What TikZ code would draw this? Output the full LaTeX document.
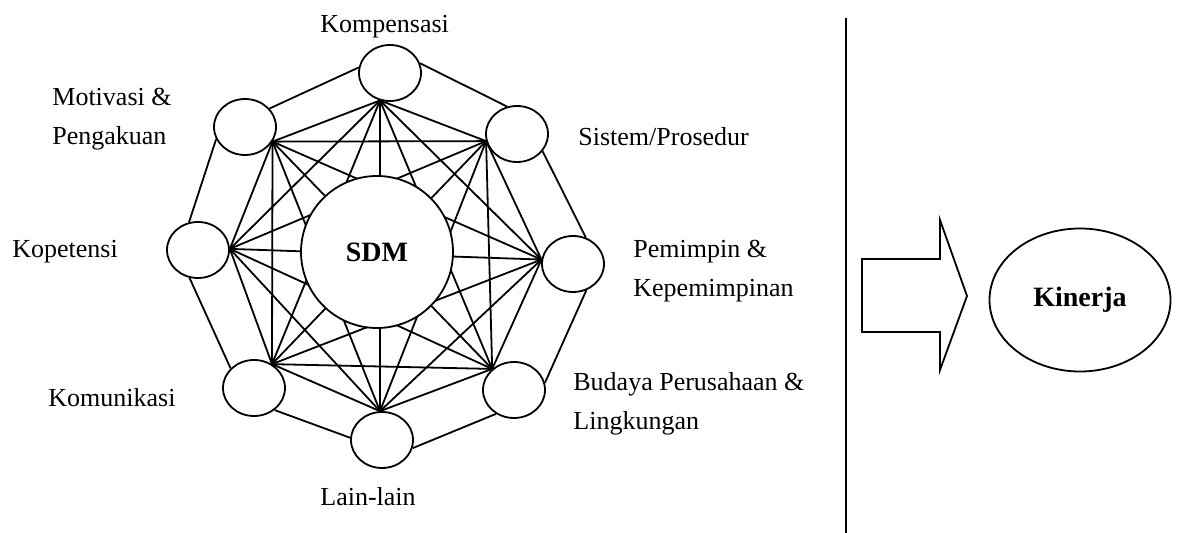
\documentclass[tikz,border=0pt]{standalone}
\usepackage{fontspec}
\setmainfont{Liberation Serif}
\usetikzlibrary{shapes.geometric}

\begin{document}
\begin{tikzpicture}[
  x=0.5pt, y=-0.5pt,
  every node/.style={font=\fontsize{13}{19.5}\selectfont},
  factor/.style={ellipse, draw, line width=0.9pt, fill=white, inner sep=0pt, minimum width=31pt, minimum height=28pt},
  core/.style={circle, draw, line width=0.9pt, fill=white, inner sep=0pt, minimum size=76pt, font=\fontsize{14}{16}\selectfont\bfseries},
  lbl/.style={inner sep=0pt, align=left, anchor=base west},
  link/.style={line width=0.9pt},
]
  \useasboundingbox (0,0) rectangle (1178,533);

  % factors round the centre
  \node[factor] (komp) at (390,73) {};
  \node[factor] (motiv) at (245,127) {};
  \node[factor] (sist) at (517,134) {};
  \node[factor] (kopet) at (198,250) {};
  \node[factor] (pemimp) at (573,264) {};
  \node[factor] (komun) at (254,388) {};
  \node[factor] (budaya) at (514,390) {};
  \node[factor] (lain) at (382,440) {};

  % labels (base = last line)
  \node[lbl] (tkomp) at (320,33) {Kompensasi};
  \node[lbl] (tmotiv) at (52,145) {Motivasi \&\\Pengakuan};
  \node[lbl] (tsist) at (578,146) {Sistem/Prosedur};
  \node[lbl] (tkopet) at (12,258) {Kopetensi};
  \node[lbl] (tpemimp) at (633,297) {Pemimpin \&\\Kepemimpinan};
  \node[lbl] (tkomun) at (48,407) {Komunikasi};
  \node[lbl] (tbudaya) at (573,430) {Budaya Perusahaan \&\\Lingkungan};
  \node[lbl] (tlain) at (320,506) {Lain-lain};

  % outer ring
  \draw[link] (komp.170) -- (motiv.37);
  \draw[link] (komp.18) -- (sist.110);
  \draw[link] (sist.-34) -- (pemimp.64);
  \draw[link] (pemimp.-63) -- (budaya.13);
  \draw[link] (budaya.233) -- (lain.-15);
  \draw[link] (lain.176) -- (komun.-47);
  \draw[link] (komun.140) -- (kopet.253);
  \draw[link] (kopet.108) -- (motiv.203);

  % inner hubs, every pair joined
  \coordinate (h1) at (komp.250);
  \coordinate (h2) at (sist.193);
  \coordinate (h3) at (pemimp.172);
  \coordinate (h4) at (budaya.136);
  \coordinate (h5) at (lain.94);
  \coordinate (h6) at (komun.53);
  \coordinate (h7) at (kopet.2);
  \coordinate (h8) at (motiv.-28);
  \foreach \i in {1,...,7} {
    \pgfmathtruncatemacro{\nxt}{\i+1}
    \foreach \j in {\nxt,...,8} {
      \draw[link] (h\i) -- (h\j);
    }
  }

  \node[core] (sdm) at (377,252) {SDM};

  % right part
  \draw[link] (846,18) -- (846,533);
  \draw[link] (862,259) -- (940,259) -- (940,220) -- (967,296)
    -- (940,370) -- (940,332) -- (862,332) -- cycle;
  \node[ellipse, draw, line width=0.9pt, inner sep=0pt, minimum width=90.5pt, minimum height=71.5pt,
    font=\fontsize{14}{16}\selectfont\bfseries] (kinerja) at (1080,300) {Kinerja};
\end{tikzpicture}
\end{document}
